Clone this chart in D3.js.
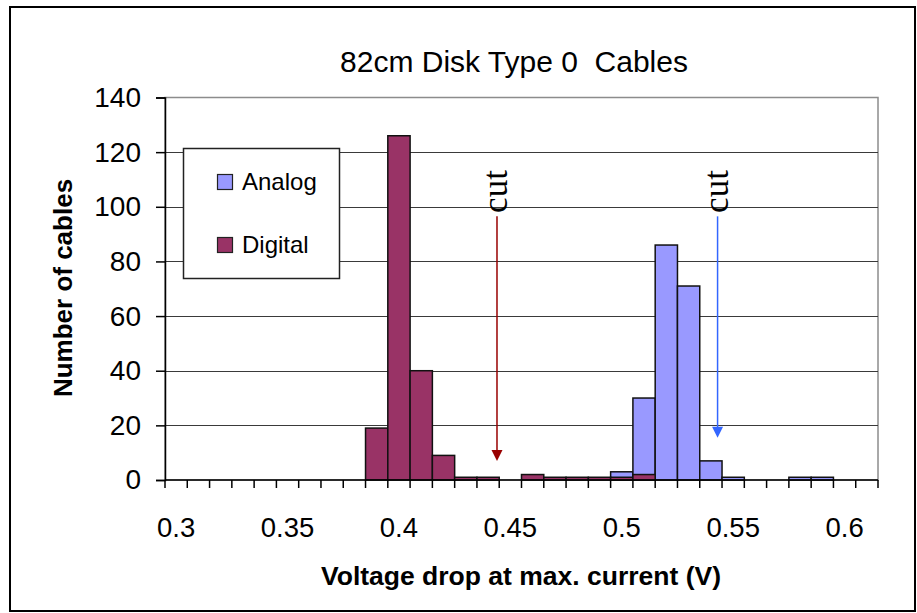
<!DOCTYPE html>
<html>
<head>
<meta charset="utf-8">
<script src="https://cdn.jsdelivr.net/npm/d3@7"></script>
<style>
  html, body { margin: 0; padding: 0; background: #fff; }
  svg { display: block; }
  text { font-family: "Liberation Sans", Arial, sans-serif; fill: #000; }
</style>
</head>
<body>
<svg id="chart" width="917" height="613"></svg>
<script>
// ---- data ----
const categories = d3.range(32).map(i => +(0.30 + i * 0.01).toFixed(2));
const analog  = [0,0,0,0,0,0,0,0,0,0, 0,0,0,0,0,0,0,0,0,0, 3,30,86,71,7,1,0,0,1,1, 0,0];
const digital = [0,0,0,0,0,0,0,0,0,19, 126,40,9,1,1,0,2,1,1,1, 1,2,0,0,0,0,0,0,0,0, 0,0];
const seriesNames = ["Analog", "Digital"];
const xTickLabels = ["0.3", "0.35", "0.4", "0.45", "0.5", "0.55", "0.6"];
const yTicks = [0, 20, 40, 60, 80, 100, 120, 140];
const cutValues = [0.444, 0.543];       // digital cut, analog cut (V)
const cutArrowTop = [96.5, 96.5];       // in "number of cables" units
const cutArrowTip = [7, 15.5];

// ---- layout ----
const svg = d3.select("#chart");
const L = 165, R = 878, T = 97.5, B = 480;
const colors = { Analog: "#9999FF", Digital: "#993366" };
const arrowColors = ["#990000", "#3366FF"];

const x = d3.scaleBand().domain(categories).range([L, R]).padding(0);
const xv = d3.scaleLinear().domain([0.295, 0.615]).range([L, R]);
const y = d3.scaleLinear().domain([0, 140]).range([B, T]);

// outer frame
svg.append("rect").attr("x", 10).attr("y", 7).attr("width", 905).attr("height", 604)
  .attr("fill", "#fff").attr("stroke", "#000").attr("stroke-width", 2);

// plot area border
svg.append("rect").attr("x", L).attr("y", T).attr("width", R - L).attr("height", B - T)
  .attr("fill", "#fff").attr("stroke", "#8c8c8c").attr("stroke-width", 1.5);

// gridlines
svg.append("g").selectAll("line").data(yTicks.filter(v => v > 0 && v < 140)).join("line")
  .attr("x1", L).attr("x2", R)
  .attr("y1", d => Math.round(y(d)) + 0.5).attr("y2", d => Math.round(y(d)) + 0.5)
  .attr("stroke", "#3a3a3a").attr("stroke-width", 1.2);

// bars
const bars = svg.append("g");
[["Analog", analog], ["Digital", digital]].forEach(([name, vals]) => {
  bars.append("g").selectAll("rect")
    .data(vals.map((v, i) => ({ c: categories[i], v })).filter(d => d.v > 0))
    .join("rect")
    .attr("x", d => x(d.c))
    .attr("width", x.bandwidth())
    .attr("y", d => y(d.v))
    .attr("height", d => y(0) - y(d.v))
    .attr("fill", colors[name])
    .attr("stroke", "#111").attr("stroke-width", 1.5);
});

// y axis
const yAxis = svg.append("g").attr("transform", `translate(${L},0)`)
  .call(d3.axisLeft(y).tickValues(yTicks).tickSize(9).tickPadding(15).tickFormat(d3.format("d")));
yAxis.select(".domain").attr("stroke", "#000").attr("stroke-width", 1.5);
yAxis.selectAll(".tick line").attr("stroke", "#000").attr("stroke-width", 1.5);
yAxis.selectAll(".tick text").attr("font-size", 28).attr("font-family", "Liberation Sans, Arial, sans-serif");

// x axis (ticks between categories, labels every 5th category)
const xAxisG = svg.append("g");
xAxisG.append("line").attr("x1", L).attr("x2", R).attr("y1", B).attr("y2", B)
  .attr("stroke", "#000").attr("stroke-width", 1.5);
const boundaries = categories.map(c => x(c)).concat([x(categories[categories.length - 1]) + x.bandwidth()]);
xAxisG.selectAll("line.tk").data(boundaries).join("line").attr("class", "tk")
  .attr("x1", d => d).attr("x2", d => d).attr("y1", B).attr("y2", B + 8)
  .attr("stroke", "#000").attr("stroke-width", 1.5);
xAxisG.selectAll("text").data(xTickLabels).join("text")
  .attr("x", d => x(+d) + x.bandwidth() / 2)
  .attr("y", 537)
  .attr("text-anchor", "middle")
  .attr("font-size", 27.5)
  .text(d => d);

// titles
svg.append("text").attr("x", 514).attr("y", 72).attr("text-anchor", "middle")
  .attr("font-size", 30).attr("xml:space", "preserve").style("white-space", "pre")
  .text("82cm Disk Type 0  Cables");
svg.append("text").attr("x", 521).attr("y", 585).attr("text-anchor", "middle")
  .attr("font-size", 26.5).attr("font-weight", "bold").text("Voltage drop at max. current (V)");
svg.append("text").attr("transform", "translate(72,288) rotate(-90)").attr("text-anchor", "middle")
  .attr("font-size", 26).attr("font-weight", "bold").text("Number of cables");

// legend
const lg = svg.append("g");
lg.append("rect").attr("x", 183.5).attr("y", 148.5).attr("width", 156).attr("height", 130)
  .attr("fill", "#fff").attr("stroke", "#222").attr("stroke-width", 1.5);
seriesNames.forEach((name, i) => {
  const yy = 174 + i * 63;
  lg.append("rect").attr("x", 217.5).attr("y", yy + 0.5).attr("width", 15).attr("height", 15)
    .attr("fill", colors[name]).attr("stroke", "#222").attr("stroke-width", 1.2);
  lg.append("text").attr("x", 242).attr("y", yy + 16).attr("font-size", 24).text(name);
});

// cut annotations
cutValues.forEach((v, i) => {
  const cx = xv(v);
  const tipY = y(cutArrowTip[i]);
  const topY = y(cutArrowTop[i]);
  svg.append("line").attr("x1", cx).attr("x2", cx).attr("y1", topY).attr("y2", tipY - 9)
    .attr("stroke", arrowColors[i]).attr("stroke-width", 1.5);
  svg.append("path")
    .attr("d", `M${cx - 5.5},${tipY - 11} L${cx + 5.5},${tipY - 11} L${cx},${tipY} Z`)
    .attr("fill", arrowColors[i]);
  svg.append("text")
    .attr("transform", `translate(${cx + 10},191.5) rotate(-90)`)
    .attr("text-anchor", "middle")
    .style("font-family", "'Liberation Serif', 'Times New Roman', serif")
    .attr("font-size", 35)
    .text("cut");
});
</script>
</body>
</html>
